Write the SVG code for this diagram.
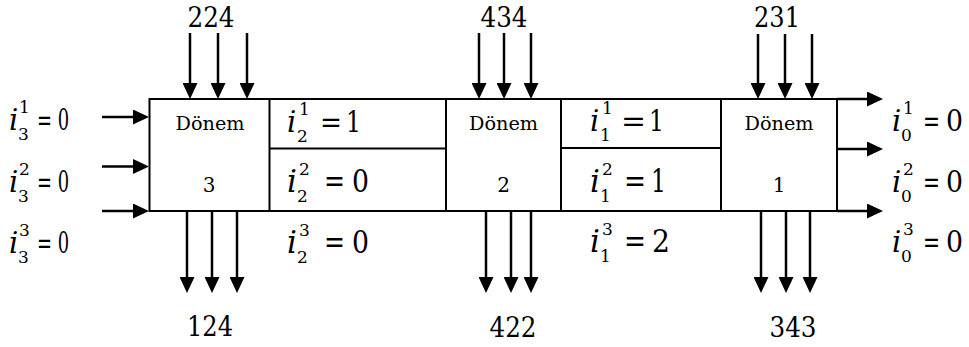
<svg xmlns="http://www.w3.org/2000/svg" width="969" height="347" viewBox="0 0 969 347">
<defs>
<style>
.bx{fill:none;stroke:#000;stroke-width:2}
.ln{stroke:#000;stroke-width:2}
.ar{stroke:#000;stroke-width:2.5;fill:none;marker-end:url(#ah)}
.num{font-size:27px;text-anchor:middle}
.dn{font-size:18px;text-anchor:middle}
.dg{font-size:20px;text-anchor:middle}
.it{font-style:italic}
.v{font-size:29px}
.vm{font-size:31px}
.v1{font-size:29px}
.s{font-size:17px}
</style>
<marker id="ah" viewBox="0 0 16 15" refX="8" refY="7.5" markerWidth="16" markerHeight="15" markerUnits="userSpaceOnUse" orient="auto">
<path d="M0,0 L16,7.5 L0,15 Z" fill="#000"/>
</marker>
</defs>
<rect width="969" height="347" fill="#fff"/>

<g font-family="DejaVu Serif, serif" fill="#000">
<g id="box3">
<rect class="bx" x="149.5" y="99" width="120" height="112"/>
<text class="dn" x="210" y="130" textLength="69" lengthAdjust="spacingAndGlyphs">Dönem</text>
<text class="dg" x="209" y="192">3</text>
</g>
<g id="cell32">
<line class="ln" x1="269.5" y1="99" x2="446" y2="99"/>
<line class="ln" x1="269.5" y1="148.5" x2="446" y2="148.5"/>
<line class="ln" x1="269.5" y1="211" x2="446" y2="211"/>
</g>
<g id="box2">
<rect class="bx" x="446" y="99" width="115" height="112"/>
<text class="dn" x="503.5" y="130" textLength="69" lengthAdjust="spacingAndGlyphs">Dönem</text>
<text class="dg" x="503.5" y="192">2</text>
</g>
<g id="cell21">
<line class="ln" x1="561" y1="99" x2="721" y2="99"/>
<line class="ln" x1="561" y1="148" x2="721" y2="148"/>
<line class="ln" x1="561" y1="211" x2="721" y2="211"/>
</g>
<g id="box1">
<rect class="bx" x="721" y="99" width="116" height="112"/>
<text class="dn" x="779" y="130" textLength="69" lengthAdjust="spacingAndGlyphs">Dönem</text>
<text class="dg" x="779" y="192">1</text>
</g>

<g id="connectors">
<line class="ar" x1="190" y1="33" x2="190" y2="91"/>
<line class="ar" x1="218" y1="33" x2="218" y2="91"/>
<line class="ar" x1="247" y1="33" x2="247" y2="91"/>
<line class="ar" x1="479" y1="33" x2="479" y2="91"/>
<line class="ar" x1="504" y1="33" x2="504" y2="91"/>
<line class="ar" x1="531" y1="33" x2="531" y2="91"/>
<line class="ar" x1="758" y1="34" x2="758" y2="91"/>
<line class="ar" x1="785" y1="34" x2="785" y2="91"/>
<line class="ar" x1="812" y1="34" x2="812" y2="91"/>
<line class="ar" x1="187" y1="211" x2="187" y2="285"/>
<line class="ar" x1="212" y1="211" x2="212" y2="285"/>
<line class="ar" x1="237" y1="211" x2="237" y2="285"/>
<line class="ar" x1="486" y1="211" x2="486" y2="285"/>
<line class="ar" x1="511" y1="211" x2="511" y2="285"/>
<line class="ar" x1="531" y1="211" x2="531" y2="285"/>
<line class="ar" x1="761" y1="211" x2="761" y2="285"/>
<line class="ar" x1="786" y1="211" x2="786" y2="285"/>
<line class="ar" x1="810" y1="211" x2="810" y2="285"/>
<line class="ar" x1="102" y1="117" x2="141" y2="117"/>
<line class="ar" x1="102" y1="166.5" x2="141" y2="166.5"/>
<line class="ar" x1="102" y1="211" x2="141" y2="211"/>
<line class="ar" x1="837" y1="99" x2="875" y2="99"/>
<line class="ar" x1="837" y1="149" x2="875" y2="149"/>
<line class="ar" x1="837" y1="211" x2="875" y2="211"/>
</g>

<g id="numbers">
<text class="num" x="211" y="27" textLength="47" lengthAdjust="spacingAndGlyphs">224</text>
<text class="num" x="504" y="27" textLength="47" lengthAdjust="spacingAndGlyphs">434</text>
<text class="num" x="777" y="27" textLength="46" lengthAdjust="spacingAndGlyphs">231</text>
<text class="num" x="210" y="336" textLength="46" lengthAdjust="spacingAndGlyphs">124</text>
<text class="num" x="513" y="337" textLength="47" lengthAdjust="spacingAndGlyphs">422</text>
<text class="num" x="793" y="337" textLength="47" lengthAdjust="spacingAndGlyphs">343</text>
</g>

<g id="left-labels">
<text class="v it" x="9" y="130">i</text><text class="s" x="19" y="113">1</text><text class="s" x="18" y="140">3</text>
<text class="v" x="37" y="130" textLength="32" lengthAdjust="spacingAndGlyphs">= 0</text>
<text class="v it" x="9" y="192">i</text><text class="s" x="19" y="175">2</text><text class="s" x="18" y="202">3</text>
<text class="v" x="37" y="192" textLength="32" lengthAdjust="spacingAndGlyphs">= 0</text>
<text class="v it" x="9" y="253">i</text><text class="s" x="19" y="236">3</text><text class="s" x="18" y="263">3</text>
<text class="v" x="37" y="253" textLength="32" lengthAdjust="spacingAndGlyphs">= 0</text>
</g>

<g id="cell32-labels">
<text class="v1 it" x="287" y="132">i</text><text class="s" x="299" y="115">1</text><text class="s" x="297" y="142">2</text>
<text class="v1" x="320" y="132" textLength="22" lengthAdjust="spacingAndGlyphs">=</text><text class="v1" x="346" y="132" textLength="15" lengthAdjust="spacingAndGlyphs">1</text>
<text class="vm it" x="287" y="192">i</text><text class="s" x="299" y="175">2</text><text class="s" x="297" y="202">2</text>
<text class="vm" x="324" y="192" textLength="21" lengthAdjust="spacingAndGlyphs">=</text><text class="vm" x="352" y="192" textLength="17" lengthAdjust="spacingAndGlyphs">0</text>
<text class="vm it" x="287" y="253">i</text><text class="s" x="299" y="236">3</text><text class="s" x="297" y="263">2</text>
<text class="vm" x="324" y="253" textLength="21" lengthAdjust="spacingAndGlyphs">=</text><text class="vm" x="352" y="253" textLength="17" lengthAdjust="spacingAndGlyphs">0</text>
</g>

<g id="cell21-labels">
<text class="v1 it" x="590" y="131">i</text><text class="s" x="602" y="114">1</text><text class="s" x="600" y="141">1</text>
<text class="v1" x="621" y="131" textLength="25" lengthAdjust="spacingAndGlyphs">=</text><text class="v1" x="649" y="131" textLength="15" lengthAdjust="spacingAndGlyphs">1</text>
<text class="vm it" x="590" y="192">i</text><text class="s" x="602" y="175">2</text><text class="s" x="600" y="202">1</text>
<text class="vm" x="624" y="192" textLength="22" lengthAdjust="spacingAndGlyphs">=</text><text class="vm" x="651" y="192" textLength="15" lengthAdjust="spacingAndGlyphs">1</text>
<text class="vm it" x="590" y="252">i</text><text class="s" x="602" y="235">3</text><text class="s" x="600" y="262">1</text>
<text class="vm" x="624" y="252" textLength="22" lengthAdjust="spacingAndGlyphs">=</text><text class="vm" x="652" y="252" textLength="18" lengthAdjust="spacingAndGlyphs">2</text>
</g>

<g id="right-labels">
<text class="v it" x="892" y="131">i</text><text class="s" x="903" y="114">1</text><text class="s" x="901" y="141">0</text>
<text class="v" x="923" y="131" textLength="17" lengthAdjust="spacingAndGlyphs">=</text><text class="v" x="946" y="131" textLength="17" lengthAdjust="spacingAndGlyphs">0</text>
<text class="v it" x="892" y="192">i</text><text class="s" x="903" y="175">2</text><text class="s" x="901" y="202">0</text>
<text class="v" x="923" y="192" textLength="17" lengthAdjust="spacingAndGlyphs">=</text><text class="v" x="946" y="192" textLength="17" lengthAdjust="spacingAndGlyphs">0</text>
<text class="v it" x="892" y="252">i</text><text class="s" x="903" y="235">3</text><text class="s" x="901" y="262">0</text>
<text class="v" x="923" y="252" textLength="17" lengthAdjust="spacingAndGlyphs">=</text><text class="v" x="946" y="252" textLength="17" lengthAdjust="spacingAndGlyphs">0</text>
</g>
</g>
</svg>
